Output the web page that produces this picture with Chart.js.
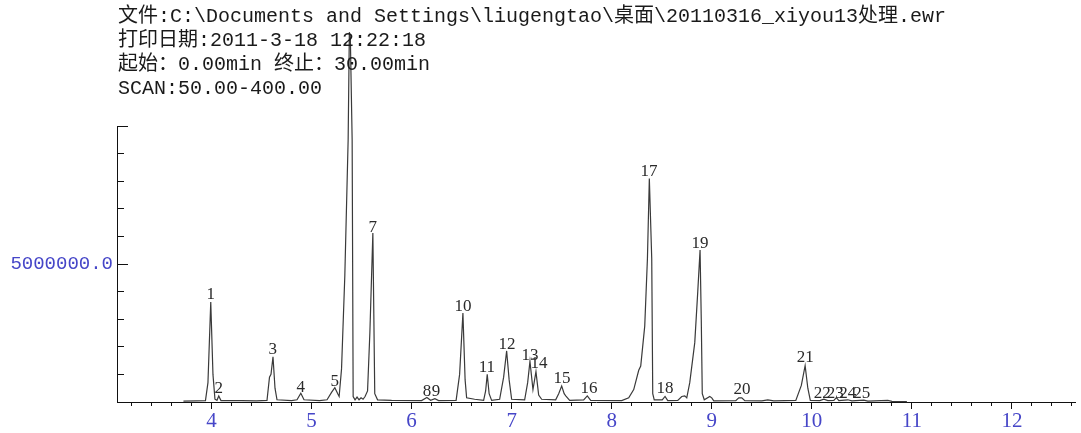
<!DOCTYPE html>
<html>
<head>
<meta charset="utf-8">
<script src="https://cdn.jsdelivr.net/npm/chart.js@4.4.0/dist/chart.umd.min.js"></script>
<style>
html,body{margin:0;padding:0;background:#fff;}
#wrap{position:relative;width:1081px;height:433px;}
#head{position:absolute;left:118px;top:5px;font:20px/24px "Liberation Mono","Noto Sans CJK SC",monospace;color:#1a1a1a;white-space:pre;z-index:2;}
canvas{position:absolute;left:0;top:0;}
</style>
</head>
<body>
<div id="wrap">
<div id="head">文件:C:\Documents and Settings\liugengtao\桌面\20110316_xiyou13处理.ewr
打印日期:2011-3-18 12:22:18
起始：0.00min 终止：30.00min
SCAN:50.00-400.00</div>
<canvas id="tic" width="1081" height="433"></canvas>
</div>
<script>
// retention time (min) and TIC intensity (millions of counts)
const rtMin = [3.72,3.85,3.94,3.965,3.993,4.015,4.035,4.055,4.073,4.095,4.30,4.45,
  4.555,4.58,4.595,4.615,4.635,4.655,4.80,4.855,4.893,4.925,5.08,5.155,5.20,5.233,
  5.262,5.276,5.30,5.333,5.366,5.378,5.388,5.406,5.416,5.435,5.455,5.475,5.495,5.515,
  5.535,5.56,5.583,5.613,5.632,5.66,5.80,6.10,6.153,6.19,6.233,6.27,6.445,6.48,
  6.513,6.535,6.55,6.63,6.72,6.74,6.756,6.775,6.80,6.88,6.92,6.95,6.975,7.0,7.13,7.16,
  7.183,7.213,7.243,7.27,7.30,7.44,7.47,7.50,7.525,7.545,7.58,7.72,7.756,7.79,8.10,
  8.17,8.22,8.27,8.29,8.33,8.357,8.376,8.40,8.41,8.425,8.505,8.533,8.56,8.66,8.70,
  8.73,8.75,8.78,8.83,8.86,8.883,8.895,8.905,8.925,8.98,9.0,9.02,9.24,9.27,9.30,9.33,
  9.50,9.56,9.62,9.84,9.895,9.933,9.96,9.985,10.08,10.12,10.16,10.22,10.245,10.27,
  10.36,10.40,10.52,10.56,10.76,10.80,10.95];
const ticMega = [0.03,0.04,0.05,0.7,3.62,1.0,0.1,0.06,0.22,0.05,0.05,0.04,
  0.06,0.9,1.0,1.64,0.5,0.08,0.05,0.08,0.32,0.08,0.05,0.08,0.35,0.52,
  0.3,0.2,1.2,4.6,9.5,13.4,13.2,9.5,0.2,0.08,0.18,0.08,0.15,0.1,
  0.2,0.4,2.5,6.12,0.3,0.08,0.06,0.05,0.16,0.06,0.12,0.05,0.06,1.0,
  3.22,0.8,0.15,0.1,0.06,0.4,1.0,0.3,0.06,0.1,0.9,1.85,0.8,0.1,0.08,0.7,
  1.47,0.45,1.1,0.25,0.1,0.08,0.3,0.58,0.3,0.2,0.06,0.08,0.22,0.06,0.05,
  0.15,0.45,1.15,1.3,2.75,5.2,8.1,5.2,0.3,0.08,0.08,0.2,0.05,0.06,0.2,
  0.22,0.15,0.7,2.15,4.0,5.51,3.0,0.3,0.08,0.2,0.15,0.04,0.05,0.15,0.15,0.05,
  0.04,0.08,0.04,0.06,0.6,1.32,0.5,0.06,0.05,0.1,0.05,0.06,0.16,0.05,
  0.08,0.04,0.07,0.03,0.06,0.02,0.01];

// peak numbers and where their labels sit (time, level in millions)
const peakNums = [1,2,3,4,5,7,8,9,10,11,12,13,14,15,16,17,18,19,20,21,22,23,24,25];
const peakRt = [3.993,4.073,4.613,4.893,5.233,5.613,6.153,6.243,6.513,6.753,6.953,7.183,
  7.273,7.503,7.773,8.373,8.533,8.883,9.303,9.933,10.105,10.235,10.36,10.5];
const peakLevel = [3.73,0.33,1.74,0.36,0.58,6.16,0.22,0.22,3.30,1.09,1.92,1.52,
  1.23,0.69,0.33,8.19,0.33,5.58,0.29,1.45,0.14,0.14,0.14,0.14];

const xRange = [3.056, 12.63];
const yMax = 1e7;
const yLabelAt = 5e6;

const isWhole = v => Math.abs(v - Math.round(v)) < 1e-6;

const peakLabels = {
  id: 'peakLabels',
  afterDatasetsDraw(chart) {
    const {ctx, scales: {x, y}} = chart;
    ctx.save();
    ctx.font = '17px "Liberation Serif"';
    ctx.fillStyle = '#2a2a2a';
    ctx.textAlign = 'center';
    ctx.textBaseline = 'alphabetic';
    peakNums.forEach((n, i) => {
      ctx.fillText(String(n), x.getPixelForValue(peakRt[i]), y.getPixelForValue(peakLevel[i] * 1e6));
    });
    ctx.restore();
  }
};

const pts = rtMin.map((t, i) => ({x: t, y: ticMega[i] * 1e6}));

new Chart(document.getElementById('tic'), {
  type: 'line',
  data: {datasets: [{data: pts, borderColor: '#3a3a3a', borderWidth: 1.2, pointRadius: 0,
    tension: 0, clip: false, fill: false}]},
  options: {
    responsive: false,
    animation: false,
    layout: {padding: {top: 126, right: 6, left: 0, bottom: 0}},
    plugins: {legend: {display: false}, tooltip: {enabled: false}},
    scales: {
      x: {
        type: 'linear', min: xRange[0], max: xRange[1],
        afterFit: s => { s.height = 31; },
        border: {color: '#111', width: 1},
        grid: {drawOnChartArea: false, tickLength: 7, tickColor: '#111',
          tickBorderDash: c => (c.tick && isWhole(c.tick.value)) ? [] : [3, 100]},
        ticks: {stepSize: 0.2, includeBounds: false, autoSkip: false, maxRotation: 0, padding: 0,
          color: '#4646c8', font: {family: 'Liberation Serif', size: 21},
          callback: v => isWhole(v) ? String(Math.round(v)) : ''}
      },
      y: {
        min: 0, max: yMax,
        afterFit: s => { s.width = 117; },
        border: {color: '#111', width: 1},
        grid: {drawOnChartArea: false, tickLength: -11, tickColor: '#111',
          tickBorderDash: c => (c.tick && c.tick.value % 5e6 === 0) ? [] : [0, 4, 7, 100]},
        ticks: {stepSize: 1e6, autoSkip: false, padding: 15,
          color: '#4646c8', font: {family: 'Liberation Mono', size: 19},
          callback: v => v === yLabelAt ? v.toFixed(1) : ''}
      }
    }
  },
  plugins: [peakLabels]
});
</script>
</body>
</html>
